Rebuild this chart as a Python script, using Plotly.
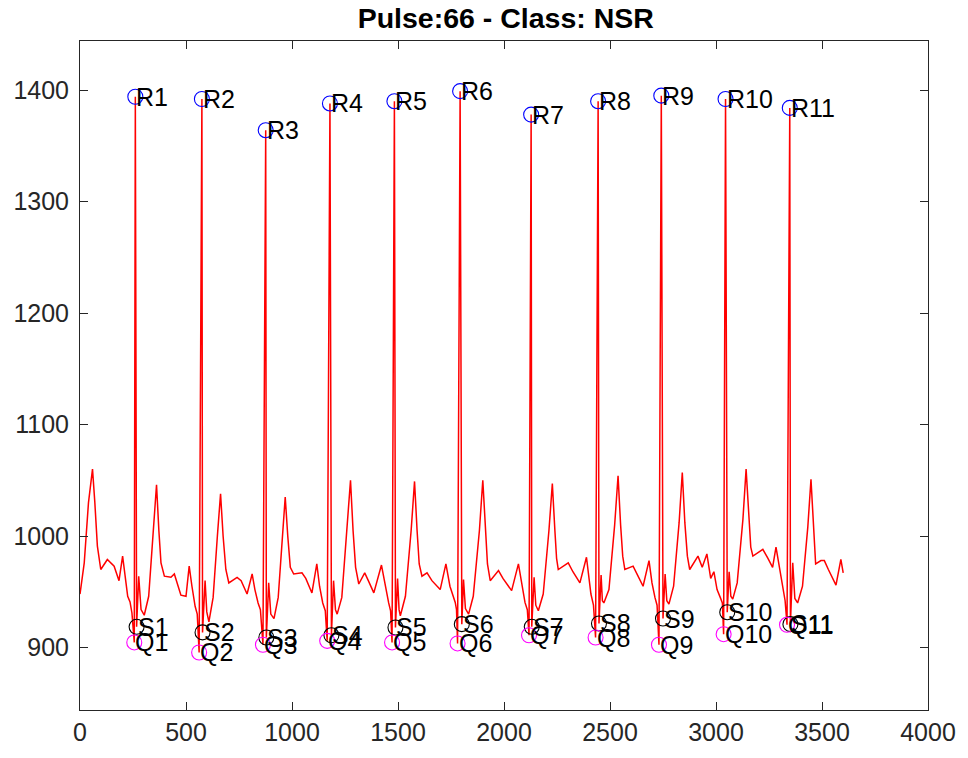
import plotly.graph_objects as go

# ---- ECG signal vertices (sample index, amplitude) ----
ECG_X = [0, 20, 40, 59, 70, 82, 98, 129, 161, 184, 201, 214, 225, 236, 245,
         256, 261, 267, 277, 288, 303, 324, 345, 361, 372, 382, 398, 429, 445, 476, 500, 515, 528, 543, 553,
         562, 575, 578, 590, 598, 608, 628, 648, 663, 675, 688, 702, 741, 760, 788, 812, 825, 840, 851,
         863, 876, 879, 890, 900, 915, 935, 953, 968, 980, 992, 1008, 1047, 1065, 1094, 1117, 1130, 1145, 1157,
         1166, 1179, 1186, 1196, 1205, 1213, 1235, 1260, 1276, 1288, 1300, 1315, 1343, 1360, 1386, 1422, 1440, 1456, 1465,
         1472, 1483, 1488, 1498, 1505, 1511, 1535, 1562, 1578, 1590, 1600, 1613, 1637, 1660, 1699, 1726, 1745, 1770, 1776,
         1781, 1793, 1801, 1809, 1818, 1833, 1855, 1884, 1900, 1912, 1922, 1935, 1974, 1995, 2036, 2068, 2085, 2099, 2110,
         2118, 2128, 2131, 2142, 2150, 2162, 2185, 2212, 2228, 2240, 2248, 2256, 2303, 2325, 2358, 2389, 2400, 2410, 2422,
         2432, 2444, 2448, 2458, 2464, 2471, 2495, 2522, 2538, 2550, 2560, 2570, 2609, 2630, 2656, 2684, 2698, 2712, 2722,
         2731, 2742, 2750, 2760, 2768, 2778, 2800, 2826, 2841, 2853, 2865, 2876, 2915, 2935, 2957, 2975, 2990, 3005, 3020, 3030,
         3036, 3045, 3053, 3062, 3070, 3079, 3100, 3127, 3142, 3154, 3164, 3174, 3221, 3245, 3267, 3283, 3305, 3315, 3326,
         3335, 3348, 3351, 3362, 3372, 3385, 3408, 3433, 3448, 3460, 3470, 3495, 3511, 3530, 3566, 3589, 3600]
ECG_Y = [948, 976, 1030, 1060, 1030, 991, 970, 979, 973, 960, 982, 965, 946, 941, 931,
         904.6, 1394, 918.6, 964, 934, 929, 946, 1000, 1046, 1005, 976, 964, 963, 966, 947, 946, 973, 955, 937, 930,
         895.6, 1392, 913.6, 960, 932, 923, 945, 1000, 1038, 1000, 970, 958, 963, 960, 948, 966, 952, 940, 934,
         902.5, 1364, 909, 958, 930, 926, 945, 995, 1035, 1000, 972, 966, 967, 962, 949, 975, 955, 940, 933,
         906, 1388, 911, 960, 934, 930, 945, 1005, 1050, 1005, 972, 957, 967, 960, 949, 974, 955, 940, 933,
         904.6, 1390, 918, 962, 934, 928.5, 946, 1005, 1049, 1005, 975, 964, 967, 960, 952, 975, 955, 940.5, 934,
         903.7, 1399, 921, 961, 935, 930, 946, 1005, 1050, 1005, 975, 960, 969, 962, 951, 975, 955, 940.5, 934,
         911, 1378, 918.6, 963, 938, 933, 948, 1005, 1047, 1005, 980, 970, 976, 968, 958, 981, 962, 948, 938,
         909, 1390, 921.6, 965, 942, 940, 952, 1010, 1054, 1010, 982, 970, 973, 965, 955, 978, 958, 945, 938,
         902.5, 1395, 926, 966, 942, 939, 955, 1012, 1057, 1012, 982, 970, 982, 972, 984, 962, 968, 952, 945, 940,
         912, 1392, 931.7, 968, 946, 943.4, 958, 1015, 1060, 1015, 990, 982, 988, 980, 972, 990, 965, 952, 942,
         920.4, 1384, 921, 976, 944, 940, 955, 1008, 1051, 1008, 975, 978, 978, 970, 956, 979, 967]

# ---- detected fiducial points ----
R_X = [261, 575, 876, 1179, 1483, 1793, 2128, 2444, 2742, 3045, 3348]
R_Y = [1394, 1392, 1364, 1388, 1390, 1399, 1378, 1390, 1395, 1392, 1384]
Q_X = [256, 562, 863, 1166, 1472, 1781, 2118, 2432, 2731, 3036, 3335]
Q_Y = [904.6, 895.6, 902.5, 906, 904.6, 903.7, 911, 909, 902.5, 912, 920.4]
S_X = [267, 578, 879, 1186, 1488, 1801, 2131, 2448, 2750, 3053, 3351]
S_Y = [918.6, 913.6, 909, 911, 918, 921, 918.6, 921.6, 926, 931.7, 921]

X_TICKS = [0, 500, 1000, 1500, 2000, 2500, 3000, 3500, 4000]
Y_TICKS = [900, 1000, 1100, 1200, 1300, 1400]
TITLE = "Pulse:66 - Class: NSR"

FONT = "Liberation Sans, Arial, Helvetica, sans-serif"
AX = "#262626"

fig = go.Figure()
fig.add_trace(go.Scatter(x=ECG_X, y=ECG_Y, mode="lines",
                         line=dict(color="#FF0000", width=1.5), hoverinfo="skip"))
for xs, ys, col in [(R_X, R_Y, "#0000FF"), (S_X, S_Y, "#000000"), (Q_X, Q_Y, "#FF00FF")]:
    fig.add_trace(go.Scatter(x=xs, y=ys, mode="markers",
                             marker=dict(symbol="circle-open", size=15,
                                         line=dict(color=col, width=1.1), color=col)))

annotations = []
for prefix, xs, ys in [("R", R_X, R_Y), ("S", S_X, S_Y), ("Q", Q_X, Q_Y)]:
    for i, (x, y) in enumerate(zip(xs, ys)):
        annotations.append(dict(x=x, y=y, xref="x", yref="y", text=f"{prefix}{i+1}",
                                showarrow=False, xanchor="left", yanchor="middle",
                                borderpad=0,
                                font=dict(family=FONT, size=25, color="#000000")))

fig.update_layout(
    width=968, height=758,
    margin=dict(l=80, r=37, t=41, b=46),
    paper_bgcolor="white", plot_bgcolor="white",
    showlegend=False,
    annotations=annotations,
    title=dict(text=f"<b>{TITLE}</b>", x=0.5225, xanchor="center",
               y=1 - 18 / 758, yanchor="middle", yref="container",
               font=dict(family=FONT, size=28.5, color="#000000")),
    xaxis=dict(range=[0, 4000], tickvals=X_TICKS, ticks="inside", ticklen=8,
               tickcolor=AX, tickwidth=1, showline=True, linecolor=AX, linewidth=1,
               mirror="ticks", showgrid=False, zeroline=False,
               tickfont=dict(family=FONT, size=25, color=AX)),
    yaxis=dict(range=[844, 1444], tickvals=Y_TICKS, ticks="inside", ticklen=8,
               tickcolor=AX, tickwidth=1, showline=True, linecolor=AX, linewidth=1,
               mirror="ticks", showgrid=False, zeroline=False, ticklabelstandoff=5,
               tickfont=dict(family=FONT, size=25, color=AX)),
)

fig.write_html("out.html")
